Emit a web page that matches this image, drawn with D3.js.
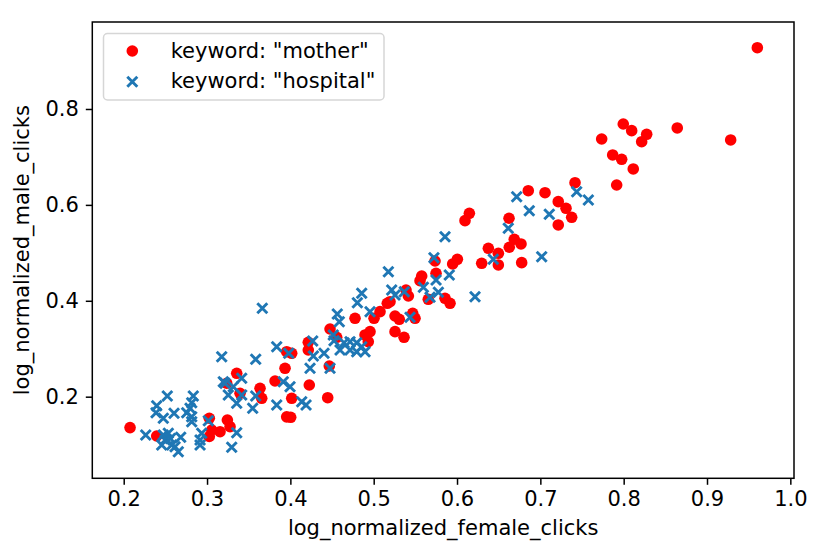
<!DOCTYPE html>
<html>
<head>
<meta charset="utf-8">
<script src="https://cdn.jsdelivr.net/npm/d3@7"></script>
<style>
  body { margin: 0; background: #fff; }
  svg { display: block; font-family: "DejaVu Sans", sans-serif; }
</style>
</head>
<body>
<svg width="822" height="558"></svg>
<script>
// [female, male] pairs
const motherPoints = [
  [0.2076, 0.1355], [0.2396, 0.118], [0.3027, 0.155], [0.3027, 0.117], [0.3056, 0.1305],
  [0.3156, 0.127], [0.3244, 0.1514], [0.3276, 0.1374], [0.3236, 0.228], [0.3356, 0.2488],
  [0.3396, 0.207], [0.3636, 0.2175], [0.3656, 0.1966], [0.3816, 0.2327], [0.3936, 0.2592],
  [0.3956, 0.2938], [0.4016, 0.2905], [0.4016, 0.1966], [0.3956, 0.158], [0.4004, 0.157],
  [0.4227, 0.2244], [0.4215, 0.3134], [0.4215, 0.2974], [0.4448, 0.1979], [0.4467, 0.264],
  [0.4476, 0.3412], [0.4556, 0.3239], [0.4776, 0.3635], [0.4896, 0.3287], [0.4956, 0.3356],
  [0.4935, 0.3147], [0.5004, 0.3635], [0.5076, 0.3773], [0.5163, 0.3948], [0.5196, 0.3981],
  [0.5256, 0.3683], [0.5307, 0.3614], [0.5256, 0.3356], [0.5364, 0.3239], [0.5388, 0.4225],
  [0.5416, 0.41], [0.5468, 0.3739], [0.5496, 0.3635], [0.5556, 0.4419], [0.5576, 0.4517],
  [0.5655, 0.4031], [0.5736, 0.483], [0.5748, 0.4573], [0.5856, 0.4052], [0.5916, 0.3948],
  [0.5948, 0.4768], [0.6004, 0.4865], [0.6096, 0.5671], [0.6148, 0.5825], [0.6296, 0.4782],
  [0.6376, 0.5095], [0.6496, 0.499], [0.6496, 0.4747], [0.6624, 0.5721], [0.6627, 0.5116],
  [0.6687, 0.5283], [0.6768, 0.5185], [0.6776, 0.4795], [0.6855, 0.6296], [0.7056, 0.6254],
  [0.7215, 0.6067], [0.7308, 0.5929], [0.7376, 0.5741], [0.7215, 0.5581], [0.7416, 0.6463],
  [0.7736, 0.7374], [0.7868, 0.7041], [0.7976, 0.6951], [0.8115, 0.6749], [0.7916, 0.6415],
  [0.7995, 0.7687], [0.8096, 0.7548], [0.8276, 0.7472], [0.8216, 0.7318], [0.8643, 0.7604],
  [0.9284, 0.7354], [0.9604, 0.9278]
];

const hospitalPoints = [
  [0.2264, 0.1201], [0.2396, 0.1813], [0.2388, 0.1666], [0.2475, 0.1549], [0.2523, 0.2015],
  [0.2604, 0.1653], [0.2535, 0.1237], [0.2475, 0.1201], [0.2496, 0.1097], [0.2456, 0.0993],
  [0.2576, 0.0993], [0.2616, 0.0957], [0.2655, 0.0853], [0.2560, 0.1130], [0.2684, 0.1153],
  [0.2835, 0.2015], [0.2816, 0.1875], [0.2756, 0.1666], [0.2816, 0.1583], [0.2816, 0.1479],
  [0.2796, 0.1758], [0.2936, 0.1237], [0.2916, 0.1097], [0.2916, 0.0993], [0.3015, 0.1499],
  [0.3356, 0.1249], [0.3296, 0.0945], [0.3176, 0.2834], [0.3195, 0.2313], [0.3216, 0.2279],
  [0.3315, 0.2209], [0.3255, 0.2035], [0.3416, 0.2035], [0.3356, 0.1862], [0.3416, 0.2384],
  [0.3584, 0.2015], [0.3548, 0.1758], [0.3584, 0.278], [0.3663, 0.3844], [0.3836, 0.3043],
  [0.3915, 0.2313], [0.3996, 0.2209], [0.3836, 0.1827], [0.4136, 0.1896], [0.4188, 0.1827],
  [0.398, 0.2905], [0.4268, 0.3162], [0.4276, 0.2849], [0.4236, 0.2592], [0.4404, 0.2905],
  [0.4476, 0.2592], [0.4515, 0.3287], [0.4524, 0.3168], [0.4563, 0.3725], [0.4587, 0.3564],
  [0.4596, 0.2974], [0.4644, 0.3126], [0.4716, 0.3147], [0.4716, 0.2974], [0.4796, 0.3126],
  [0.4796, 0.2938], [0.4896, 0.2938], [0.4856, 0.3043], [0.4804, 0.396], [0.4856, 0.4156],
  [0.4956, 0.3773], [0.5176, 0.4607], [0.5216, 0.4225], [0.5256, 0.4121], [0.5367, 0.419],
  [0.5436, 0.3656], [0.5596, 0.4282], [0.5748, 0.4434], [0.5776, 0.4177], [0.5676, 0.4073],
  [0.5907, 0.4538], [0.5723, 0.4899], [0.5856, 0.5337], [0.6216, 0.4085], [0.6435, 0.4865],
  [0.6615, 0.5512], [0.6716, 0.6171], [0.6867, 0.5879], [0.7107, 0.5804], [0.7016, 0.492],
  [0.7436, 0.6275], [0.7576, 0.6102]
];

const seriesNames = ['keyword: "mother"', 'keyword: "hospital"'];
const xTicks = [0.2, 0.3, 0.4, 0.5, 0.6, 0.7, 0.8, 0.9, 1.0];
const yTicks = [0.2, 0.4, 0.6, 0.8];
const xLabel = "log_normalized_female_clicks";
const yLabel = "log_normalized_male_clicks";

const svg = d3.select("svg");
const width  = +svg.attr("width");
const height = +svg.attr("height");
const margin = {top: 22, right: 28, bottom: 79.7, left: 92.3};

const x = d3.scaleLinear().domain([0.1623, 1.0044]).range([margin.left, width - margin.right]);
const y = d3.scaleLinear().domain([0.0298, 0.9814]).range([height - margin.bottom, margin.top]);

const red  = "#ff0000";
const blue = "#1f77b4";
const fontSize = 21;

// points
svg.append("g")
  .selectAll("circle")
  .data(motherPoints)
  .join("circle")
  .attr("cx", d => x(d[0]))
  .attr("cy", d => y(d[1]))
  .attr("r", 5.8)
  .attr("fill", red);

const cross = "M-5,-5L5,5M-5,5L5,-5";

svg.append("g")
  .selectAll("path")
  .data(hospitalPoints)
  .join("path")
  .attr("transform", d => `translate(${x(d[0])},${y(d[1])})`)
  .attr("d", cross)
  .attr("stroke", blue)
  .attr("stroke-width", 2.9)
  .attr("fill", "none");

// axes
const xAxis = svg.append("g")
  .attr("transform", `translate(0,${height - margin.bottom})`)
  .call(d3.axisBottom(x).tickValues(xTicks).tickFormat(d3.format(".1f")).tickSize(6.5).tickPadding(6));

const yAxis = svg.append("g")
  .attr("transform", `translate(${margin.left},0)`)
  .call(d3.axisLeft(y).tickValues(yTicks).tickFormat(d3.format(".1f")).tickSize(6.5).tickPadding(7));

[xAxis, yAxis].forEach(a => {
  a.select(".domain").remove();
  a.selectAll(".tick line").attr("stroke", "#000").attr("stroke-width", 1.5);
  a.selectAll(".tick text")
    .attr("fill", "#000")
    .style("font-size", fontSize + "px")
    .style("font-family", "DejaVu Sans");
});

// frame
svg.append("rect")
  .attr("x", margin.left)
  .attr("y", margin.top)
  .attr("width", width - margin.left - margin.right)
  .attr("height", height - margin.top - margin.bottom)
  .attr("fill", "none")
  .attr("stroke", "#000")
  .attr("stroke-width", 1.5);

// axis labels
svg.append("text")
  .attr("x", (margin.left + width - margin.right) / 2)
  .attr("y", 535)
  .attr("text-anchor", "middle")
  .style("font-size", fontSize + "px")
  .text(xLabel);

svg.append("text")
  .attr("transform", `translate(29,${(margin.top + height - margin.bottom) / 2}) rotate(-90)`)
  .attr("text-anchor", "middle")
  .style("font-size", fontSize + "px")
  .text(yLabel);

// legend
const legend = svg.append("g");
legend.append("rect")
  .attr("x", 103.5)
  .attr("y", 33.5)
  .attr("width", 280.5)
  .attr("height", 66.5)
  .attr("rx", 4)
  .attr("fill", "#fff")
  .attr("fill-opacity", 0.8)
  .attr("stroke", "#d6d6d6")
  .attr("stroke-width", 1.5);

legend.append("circle")
  .attr("cx", 132.3)
  .attr("cy", 51)
  .attr("r", 5.8)
  .attr("fill", red);

legend.append("path")
  .attr("transform", "translate(132.3,81.7)")
  .attr("d", cross)
  .attr("stroke", blue)
  .attr("stroke-width", 2.9);

legend.selectAll("text.label")
  .data(seriesNames)
  .join("text")
  .attr("class", "label")
  .attr("x", 170.7)
  .attr("y", (d, i) => 57.5 + i * 30.5)
  .style("font-size", fontSize + "px")
  .text(d => d);
</script>
</body>
</html>
